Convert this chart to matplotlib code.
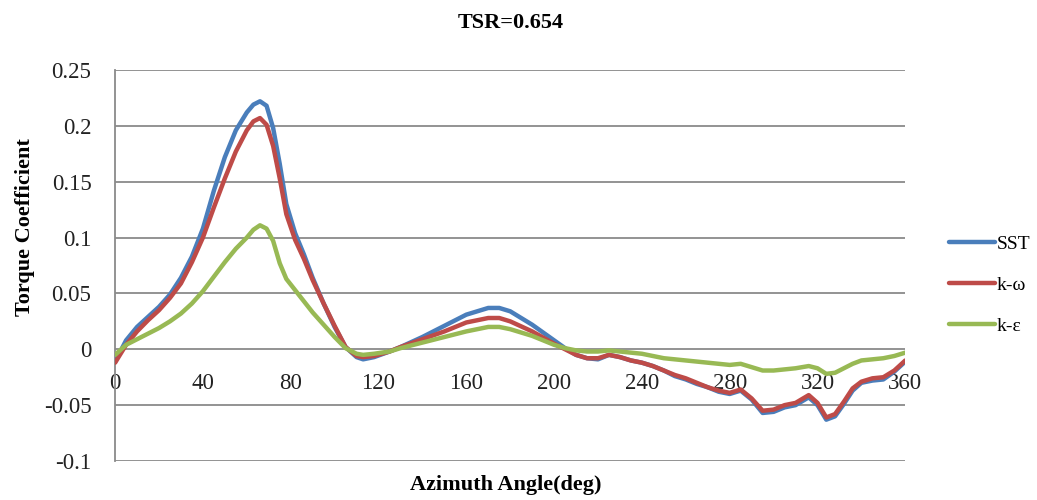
import matplotlib
matplotlib.use('Agg')
import matplotlib.pyplot as plt

plt.rcParams['font.family'] = ['Liberation Serif', 'DejaVu Serif']

# azimuth angle (deg) and torque coefficient
angle = [0, 5, 10, 15, 20, 25, 30, 35, 40, 45, 50, 55, 60,
         63, 66, 69, 72, 75, 78,
         82, 86, 90, 95, 100, 105, 110, 113, 118, 125, 130,
         140, 150, 160, 170, 175, 180, 190, 200,
         205, 210, 215, 220, 225, 230, 235, 240, 245, 250, 255, 260, 265,
         270, 275, 280, 285, 290, 295, 300, 305, 310,
         316, 320, 324, 328, 332, 336, 340,
         345, 350, 355, 360]

sst = [-0.011, 0.008, 0.02, 0.029, 0.038, 0.049, 0.064, 0.083, 0.108, 0.142, 0.172, 0.196, 0.212,
       0.219, 0.222, 0.218, 0.198, 0.166, 0.13,
       0.104, 0.085, 0.064, 0.041, 0.02, 0.002, -0.007, -0.009, -0.007, -0.002, 0.002,
       0.011, 0.021, 0.031, 0.037, 0.037, 0.034, 0.022, 0.008,
       0.001, -0.005, -0.008, -0.009, -0.005, -0.007, -0.01, -0.012, -0.015, -0.019, -0.024, -0.027, -0.031,
       -0.034, -0.038, -0.04, -0.037, -0.045, -0.057, -0.056, -0.052, -0.05,
       -0.043, -0.05, -0.063, -0.06, -0.049, -0.037, -0.03,
       -0.028, -0.027, -0.02, -0.011]

k_omega = [-0.012, 0.004, 0.016, 0.026, 0.035, 0.046, 0.059, 0.078, 0.1, 0.127, 0.153, 0.177, 0.196,
           0.204, 0.207, 0.201, 0.182, 0.153, 0.121,
           0.098, 0.081, 0.062, 0.041, 0.021, 0.002, -0.006, -0.007, -0.006, -0.002, 0.002,
           0.009, 0.016, 0.024, 0.028, 0.028, 0.025, 0.016, 0.005,
           0.0, -0.005, -0.008, -0.008, -0.005, -0.007, -0.01, -0.012, -0.015, -0.019, -0.023, -0.026, -0.03,
           -0.034, -0.037, -0.039, -0.036, -0.044, -0.055, -0.054, -0.05, -0.048,
           -0.041, -0.048, -0.061, -0.058, -0.047, -0.035, -0.029,
           -0.026, -0.025, -0.019, -0.01]

k_eps = [-0.005, 0.004, 0.009, 0.014, 0.019, 0.025, 0.032, 0.041, 0.052, 0.065, 0.078, 0.09, 0.1,
         0.107, 0.111, 0.108, 0.097, 0.077, 0.063,
         0.053, 0.043, 0.033, 0.022, 0.011, 0.001, -0.004, -0.005, -0.004, -0.002, 0.001,
         0.006, 0.011, 0.016, 0.02, 0.02, 0.018, 0.012, 0.004,
         0.001, -0.001, -0.002, -0.002, -0.001, -0.002, -0.003, -0.004, -0.006, -0.008, -0.009, -0.01, -0.011,
         -0.012, -0.013, -0.014, -0.013, -0.016, -0.019, -0.019, -0.018, -0.017,
         -0.015, -0.017, -0.022, -0.021, -0.017, -0.013, -0.01,
         -0.009, -0.008, -0.006, -0.003]

series = [('SST', sst, '#4a7ebb'), ('k-ω', k_omega, '#be4b48'), ('k-ε', k_eps, '#98b954')]
yticks = [-0.1, -0.05, 0, 0.05, 0.1, 0.15, 0.2, 0.25]
ytick_labels = ['-0.1', '-0.05', '0', '0.05', '0.1', '0.15', '0.2', '0.25']
xticks = [0, 40, 80, 120, 160, 200, 240, 280, 320, 360]

fig = plt.figure(figsize=(10.37, 5.0), dpi=100)
ax = fig.add_axes([0.111, 0.078, 0.762, 0.782])

for name, vals, col in series:
    ax.plot(angle, vals, color=col, lw=3.2, label=name,
            solid_joinstyle='round', solid_capstyle='round', zorder=3)

ax.set_xlim(0, 360)
ax.set_ylim(-0.1, 0.25)
ax.set_yticks(yticks)
ax.set_yticklabels(ytick_labels)
ax.set_xticks(xticks)
ax.grid(axis='y', color='#8a8a8a', lw=1.3)
ax.set_axisbelow(True)

for s in ['top', 'right']:
    ax.spines[s].set_visible(False)
ax.spines['left'].set_color('#8a8a8a')
ax.spines['left'].set_linewidth(1.3)
ax.spines['bottom'].set_position(('data', 0))
ax.spines['bottom'].set_visible(False)
ax.tick_params(axis='y', length=0, labelsize=16.5, pad=17, labelcolor='#222222')
ax.tick_params(axis='x', length=0, labelsize=16.5, pad=17, labelcolor='#222222')

ax.set_title('TSR=0.654', fontsize=16, fontweight='bold', pad=30)
fig.text(0.488, 0.03, 'Azimuth Angle(deg)', fontsize=16, fontweight='bold',
         ha='center', va='center')
fig.text(0.024, 0.545, 'Torque Coefficient', fontsize=16, fontweight='bold',
         rotation=90, ha='center', va='center')

fig.legend(loc='center left', bbox_to_anchor=(0.898, 0.43), frameon=False,
           fontsize=14, handlelength=2.4, handletextpad=0.05, labelspacing=1.2)

fig.savefig('out.png', dpi=100)
